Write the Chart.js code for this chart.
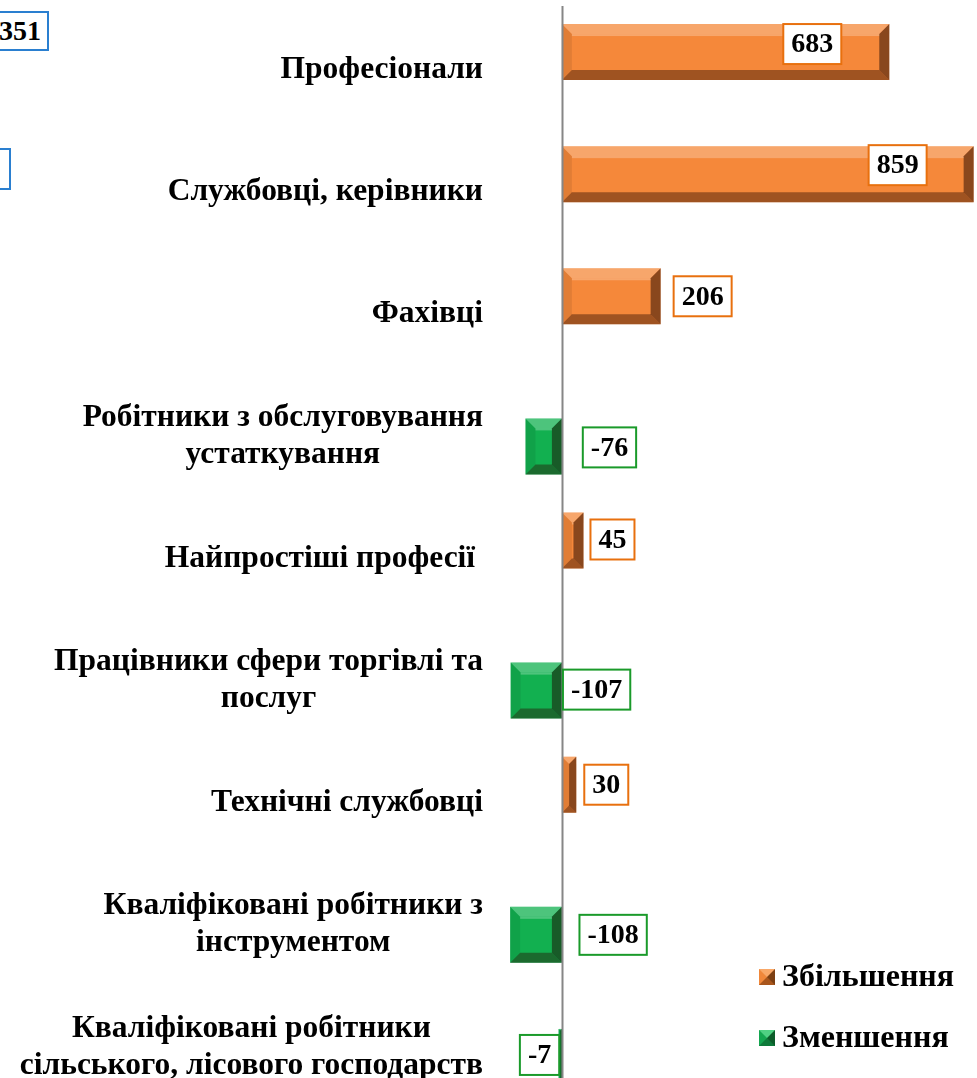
<!DOCTYPE html>
<html>
<head>
<meta charset="utf-8">
<script src="https://cdn.jsdelivr.net/npm/chart.js@4/dist/chart.umd.min.js"></script>
<style>
  html, body { margin: 0; padding: 0; background: #fff; overflow: hidden; width: 977px; height: 1078px; }
  #wrap { position: absolute; left: 0; top: 0; }
  .cut { position: absolute; background: #fff; border: 2px solid #2a7fd0; font: bold 28px "Liberation Serif", serif; color: #000;
         text-align: right; box-sizing: border-box; line-height: 36px; padding-right: 6px; }
  .leg { position: absolute; left: 759px; font: bold 32px "Liberation Serif", serif; color: #000; white-space: nowrap; }
  .leg i { display: inline-block; width: 0; height: 0; border-style: solid; border-width: 8px; margin-right: 7px; vertical-align: 1px; }
</style>
</head>
<body>
<div id="wrap"><canvas id="changeChart" width="977" height="1104"></canvas></div>
<div class="cut" style="left:-40px; top:11px; width:89px; height:40px;">351</div>
<div class="cut" style="left:-60px; top:148px; width:71px; height:42px;"></div>
<div class="leg" style="top:957px;"><i style="border-color:#f9a868 #7c3f12 #a9561c #f0873a;"></i>Збільшення</div>
<div class="leg" style="top:1018px;"><i style="border-color:#4fd183 #0c5c2a #0e7a3a #14a650;"></i>Зменшення</div>
<script>
// categories (top to bottom)
var categories = [
    ["Професіонали"],
    ["Службовці, керівники"],
    ["Фахівці"],
    ["Робітники з обслуговування", "устаткування"],
    ["Найпростіші професії "],
    ["Працівники сфери торгівлі та", "послуг"],
    ["Технічні службовці"],
    ["Кваліфіковані робітники з", "інструментом"],
    ["Кваліфіковані робітники", "сільського, лісового господарств"]
];
var changes = [683, 859, 206, -76, 45, -107, 30, -108, -7];
var increase = changes.map(function (v) { return v > 0 ? v : null; });
var decrease = changes.map(function (v) { return v < 0 ? v : null; });

// where each value box sits, relative to the bar end (px)
var labelDx = [-77, -76, 42, 84, 29, 86, 30, 103, -19];
var labelDy = [-8, -9, 0, 1, -1, -1, 0, 0, -2];

var catFont = 'bold 31.5px "Liberation Serif", serif';
var valueFont = 'bold 28px "Liberation Serif", serif';

function poly(ctx, pts, color) {
    ctx.beginPath();
    ctx.moveTo(pts[0][0], pts[0][1]);
    for (var k = 1; k < pts.length; k++) ctx.lineTo(pts[k][0], pts[k][1]);
    ctx.closePath();
    ctx.fillStyle = color;
    ctx.fill();
}

var bevelPlugin = {
    id: 'bevel',
    afterDatasetsDraw: function (chart) {
        var ctx = chart.ctx;
        ctx.save();
        chart.data.datasets.forEach(function (ds, di) {
            chart.getDatasetMeta(di).data.forEach(function (bar, i) {
                if (ds.data[i] == null) return;
                var p = bar.getProps(['x', 'y', 'base', 'height'], true);
                var l = Math.min(p.x, p.base), r = Math.max(p.x, p.base);
                var t = p.y - p.height / 2, b = p.y + p.height / 2;
                var d = Math.min(10, (r - l) / 2);
                poly(ctx, [[l, t], [r, t], [r - d, t + d], [l + d, t + d]], 'rgba(255,255,255,0.25)');
                poly(ctx, [[l, b], [r, b], [r - d, b - d], [l + d, b - d]], 'rgba(40,10,0,0.42)');
                poly(ctx, [[l, t], [l + d, t + d], [l + d, b - d], [l, b]], 'rgba(0,0,0,0.08)');
                poly(ctx, [[r, t], [r - d, t + d], [r - d, b - d], [r, b]], 'rgba(30,5,0,0.5)');
                ctx.fillStyle = 'rgba(255,255,255,0.25)';
                ctx.fillRect(l + d, t + d, r - l - 2 * d, 2);
            });
        });
        ctx.restore();
    }
};

var axisPlugin = {
    id: 'axisAndLabels',
    afterDraw: function (chart) {
        var ctx = chart.ctx, area = chart.chartArea;
        var xs = chart.scales.x, ys = chart.scales.y;
        ctx.save();
        // zero line
        var x0 = Math.round(xs.getPixelForValue(0)) + 0.5;
        ctx.strokeStyle = '#868686';
        ctx.lineWidth = 2;
        ctx.beginPath();
        ctx.moveTo(x0, area.top + 1);
        ctx.lineTo(x0, area.bottom);
        ctx.stroke();

        // category labels: block right aligned, lines centred
        ctx.font = catFont;
        ctx.fillStyle = '#000';
        ctx.textBaseline = 'middle';
        ctx.textAlign = 'center';
        var lineH = 37;
        var right = area.left - 7;
        categories.forEach(function (lines, i) {
            var cy = ys.getPixelForValue(i) + 4;
            var w = 0;
            lines.forEach(function (s) { w = Math.max(w, ctx.measureText(s).width); });
            var cx = right - w / 2;
            lines.forEach(function (s, j) {
                ctx.fillText(s, cx, cy + (j - (lines.length - 1) / 2) * lineH);
            });
        });

        // value boxes
        ctx.font = valueFont;
        chart.data.datasets.forEach(function (ds, di) {
            chart.getDatasetMeta(di).data.forEach(function (bar, i) {
                var v = ds.data[i];
                if (v == null) return;
                var txt = String(v);
                var tw = ctx.measureText(txt).width;
                var bw = tw + 16, bh = 40;
                var cx = bar.x + labelDx[i], cy = bar.y + labelDy[i];
                ctx.fillStyle = '#fff';
                ctx.fillRect(cx - bw / 2, cy - bh / 2, bw, bh);
                ctx.strokeStyle = ds.labelBorder;
                ctx.lineWidth = 2;
                ctx.strokeRect(cx - bw / 2, cy - bh / 2, bw, bh);
                ctx.fillStyle = '#000';
                ctx.fillText(txt, cx, cy + 1);
            });
        });
        ctx.restore();
    }
};

new Chart(document.getElementById('changeChart'), {
    type: 'bar',
    data: {
        labels: categories,
        datasets: [
            { label: 'Збільшення', data: increase, backgroundColor: '#f5883a', labelBorder: '#e8700e' },
            { label: 'Зменшення', data: decrease, backgroundColor: '#12b050', labelBorder: '#1a9a2a' }
        ]
    },
    options: {
        indexAxis: 'y',
        responsive: false,
        animation: false,
        devicePixelRatio: 1,
        categoryPercentage: 0.4587,
        barPercentage: 2,
        layout: { padding: { top: 5, left: 0, right: 0, bottom: 0 } },
        plugins: { legend: { display: false }, tooltip: { enabled: false } },
        scales: {
            x: { display: false, min: -150, max: 866 },
            y: {
                display: true,
                grid: { display: false },
                border: { display: false },
                ticks: { display: false },
                afterFit: function (scale) { scale.width = 490; }
            }
        }
    },
    plugins: [bevelPlugin, axisPlugin]
});
</script>
</body>
</html>
